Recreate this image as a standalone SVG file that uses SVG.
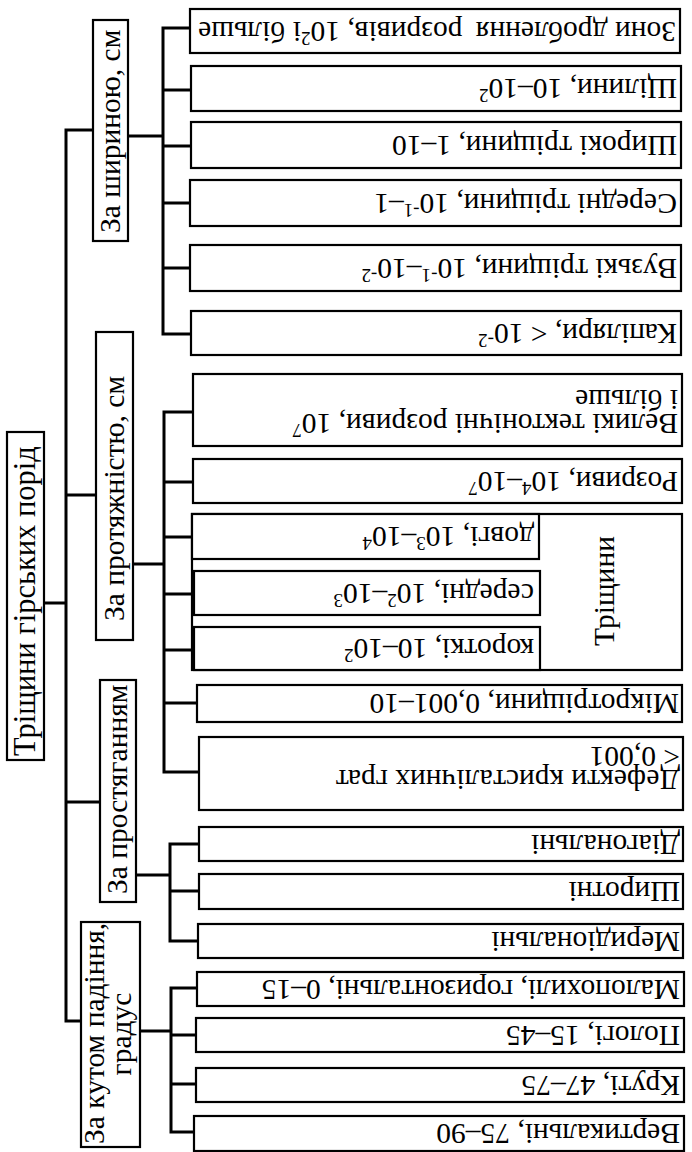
<svg xmlns="http://www.w3.org/2000/svg" width="692" height="1152" viewBox="0 0 692 1152">
<style>
.box{fill:#fff;stroke:#000;stroke-width:2.2}
.con{fill:none;stroke:#000;stroke-width:3;stroke-linecap:square}
text{font-family:"Liberation Serif","Times New Roman",serif;fill:#000}
.leaf{font-size:29.5px}
.cat{font-size:29.5px}
.root{font-size:30.5px}
.sup{font-size:19px}
</style>
<rect width="692" height="1152" fill="#fff"/>
<g id="connectors">
<path class="con" d="M66,130V1021 M44,603H66 M66,130H93 M66,495H96 M66,802H100 M66,1021H81"/>
<path class="con" d="M128,136H163 M163,28V334 M163,28H190 M163,90H191 M163,146H191 M163,203H190 M163,268H190 M163,334H191"/>
<path class="con" d="M133,564H164 M164,412V772 M164,412H193 M164,482H193 M164,537H192 M164,594H194 M164,650H194 M164,703H197 M164,772H199"/>
<path class="con" d="M136,875H170 M170,844V941 M170,844H199 M170,891H199 M170,941H198"/>
<path class="con" d="M140,1031H171 M171,988V1132 M171,988H197 M171,1035H196 M171,1084H196 M171,1132H194"/>
</g>
<g id="root">
<rect class="box" x="7" y="432" width="37" height="328"/>
<text class="root" transform="translate(35,756) rotate(-90)">Тріщини гірських порід</text>
</g>
<g id="cat-width">
<rect class="box" x="93" y="20" width="35" height="221"/>
<text class="cat" transform="translate(120,233) rotate(-90)">За шириною, см</text>
</g>
<g id="cat-length">
<rect class="box" x="96" y="332" width="37" height="308"/>
<text class="cat" transform="translate(124,621) rotate(-90)">За протяжністю, см</text>
</g>
<g id="cat-strike">
<rect class="box" x="100" y="680" width="36" height="222"/>
<text class="cat" transform="translate(127,894) rotate(-90)">За простяганням</text>
</g>
<g id="cat-dip">
<rect class="box" x="81" y="922" width="59" height="225"/>
<text class="cat" transform="rotate(-90)"><tspan x="-1144" y="104">За кутом падіння,</tspan><tspan x="-1034" y="131" text-anchor="middle">градус</tspan></text>
</g>
<g id="w1">
<rect class="box" x="190" y="9" width="490" height="44"/>
<text class="leaf" transform="translate(676,21.5) rotate(180)">Зони дроблення <tspan dx="6">розривів, 10</tspan><tspan class="sup" dy="-10">2</tspan><tspan dy="10">і більше</tspan></text>
</g>
<g id="w2">
<rect class="box" x="191" y="66" width="490" height="45"/>
<text class="leaf" transform="translate(677,79) rotate(180)">Щілини, 10–10<tspan class="sup" dy="-10">2</tspan></text>
</g>
<g id="w3">
<rect class="box" x="191" y="122" width="490" height="46"/>
<text class="leaf" transform="translate(677,135.5) rotate(180)">Широкі тріщини, 1–10</text>
</g>
<g id="w4">
<rect class="box" x="190" y="180" width="491" height="46"/>
<text class="leaf" transform="translate(677,193.5) rotate(180)">Середні тріщини, 10<tspan class="sup" dy="-10">-1</tspan><tspan dy="10">–1</tspan></text>
</g>
<g id="w5">
<rect class="box" x="190" y="245" width="491" height="46"/>
<text class="leaf" transform="translate(677,258.5) rotate(180)">Вузькі тріщини, 10<tspan class="sup" dy="-10">-1</tspan><tspan dy="10">–10</tspan><tspan class="sup" dy="-10">-2</tspan></text>
</g>
<g id="w6">
<rect class="box" x="191" y="311" width="490" height="44"/>
<text class="leaf" transform="translate(677,323.5) rotate(180)">Капіляри, &lt; 10<tspan class="sup" dy="-10">-2</tspan></text>
</g>
<g id="l1">
<rect class="box" x="193" y="374" width="489" height="72"/>
<text class="leaf" transform="translate(678,414) rotate(180)"><tspan x="0" y="0">Великі тектонічні розриви, 10</tspan><tspan class="sup" dy="-10">7</tspan><tspan x="0" y="24">і більше</tspan></text>
</g>
<g id="l2">
<rect class="box" x="193" y="459" width="489" height="44"/>
<text class="leaf" transform="translate(678,471.5) rotate(180)">Розриви, 10<tspan class="sup" dy="-10">4</tspan><tspan dy="10">–10</tspan><tspan class="sup" dy="-10">7</tspan></text>
</g>
<g id="l3">
<rect class="box" x="192" y="514" width="490" height="156"/>
<text class="leaf" transform="translate(614,591) rotate(-90)" text-anchor="middle">Тріщини</text>
</g>
<g id="l3a">
<rect class="box" x="192" y="514" width="347" height="45"/>
<text class="leaf" transform="translate(534,527) rotate(180)">довгі, 10<tspan class="sup" dy="-10">3</tspan><tspan dy="10">–10</tspan><tspan class="sup" dy="-10">4</tspan></text>
</g>
<g id="l3b">
<rect class="box" x="194" y="571" width="346" height="44"/>
<text class="leaf" transform="translate(534,583.5) rotate(180)">середні, 10<tspan class="sup" dy="-10">2</tspan><tspan dy="10">–10</tspan><tspan class="sup" dy="-10">3</tspan></text>
</g>
<g id="l3c">
<rect class="box" x="194" y="627" width="346" height="43"/>
<text class="leaf" transform="translate(534,639) rotate(180)">короткі, 10–10<tspan class="sup" dy="-10">2</tspan></text>
</g>
<g id="l4">
<rect class="box" x="197" y="685" width="485" height="37"/>
<text class="leaf" transform="translate(679,694) rotate(180)">Мікротріщини, 0,001–10</text>
</g>
<g id="l5">
<rect class="box" x="199" y="737" width="484" height="73"/>
<text class="leaf" transform="translate(680,770) rotate(180)"><tspan x="0" y="0">Дефекти кристалічних грат</tspan><tspan x="0" y="23">&lt; 0,001</tspan></text>
</g>
<g id="s1">
<rect class="box" x="199" y="827" width="484" height="34"/>
<text class="leaf" transform="translate(680,834.5) rotate(180)">Діагональні</text>
</g>
<g id="s2">
<rect class="box" x="199" y="874" width="484" height="35"/>
<text class="leaf" transform="translate(680,882) rotate(180)">Широтні</text>
</g>
<g id="s3">
<rect class="box" x="198" y="924" width="485" height="34"/>
<text class="leaf" transform="translate(680,931.5) rotate(180)">Меридіональні</text>
</g>
<g id="d1">
<rect class="box" x="197" y="972" width="487" height="34"/>
<text class="leaf" transform="translate(680,979.5) rotate(180)">Малопохилі, горизонтальні, 0–15</text>
</g>
<g id="d2">
<rect class="box" x="196" y="1018" width="488" height="34"/>
<text class="leaf" transform="translate(680,1025.5) rotate(180)">Пологі, 15–45</text>
</g>
<g id="d3">
<rect class="box" x="196" y="1068" width="488" height="34"/>
<text class="leaf" transform="translate(680,1075.5) rotate(180)">Круті, 47–75</text>
</g>
<g id="d4">
<rect class="box" x="194" y="1116" width="490" height="35"/>
<text class="leaf" transform="translate(680,1124) rotate(180)">Вертикальні, 75–90</text>
</g>
</svg>
